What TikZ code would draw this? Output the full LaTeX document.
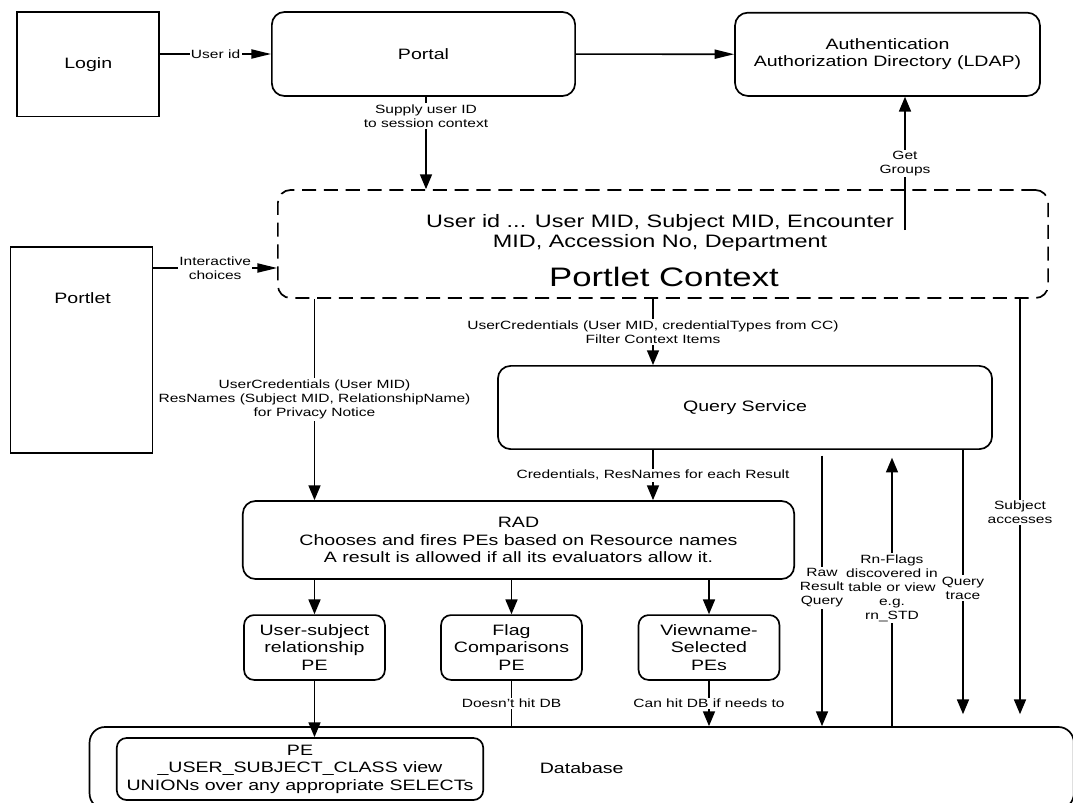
\documentclass[tikz,border=0pt]{standalone}
\usepackage{fontspec}
\setmainfont{Liberation Sans}[FakeStretch=1.3]
\usetikzlibrary{positioning,arrows.meta}

\tikzset{
  box/.style={draw, line width=1.2pt, rounded corners=9pt, align=center, inner sep=0pt,
    font=\fontsize{10.7}{12.4}\selectfont},
  sqbox/.style={box, sharp corners},
  pebox/.style={box, rounded corners=7pt, minimum width=3.52cm, minimum height=1.62cm},
  ctxbox/.style={box, dash pattern=on 10pt off 5.5pt},
  lbl/.style={fill=white, inner sep=1pt, align=center, font=\fontsize{8.5}{10}\selectfont},
  link/.style={line width=1.2pt, >={Triangle[length=10.5pt,width=8.5pt]}},
  hlink/.style={line width=1.2pt, >={Triangle[length=14pt,width=6.5pt]}},
}

\begin{document}
\begin{tikzpicture}[x=0.025cm, y=-0.025cm]
  \useasboundingbox (0,0) rectangle (1073,803);

  \node (login) [sqbox, minimum width=3.55cm, minimum height=2.62cm] at (88.3,64.2) {Login};
  \node (portal) [box, minimum width=7.58cm, minimum height=2.1cm] at (423.5,54) {Portal};
  \node (auth) [box, minimum width=7.62cm, minimum height=2.08cm] at (887.5,54.3)
    {Authentication\\Authorization Directory (LDAP)};
  \node (context) [ctxbox, minimum width=19.25cm, minimum height=2.7cm] at (663,244) {};
  \node (ctxitems) [align=center, font=\fontsize{12.8}{14.2}\selectfont] at (660,233)
    {User id ... User MID, Subject MID, Encounter\\MID, Accession No, Department};
  \node (ctxname) [font=\fontsize{19}{22}\selectfont] at (664,277) {Portlet Context};
  \node (portlet) [sqbox, minimum width=3.55cm, minimum height=5.15cm] at (81.4,350) {};
  \node (portletname) [font=\fontsize{10.7}{12.4}\selectfont] at (82.6,298) {Portlet};
  \node (qs) [box, minimum width=12.35cm, minimum height=2.08cm] at (745,407.5) {Query Service};
  \node (rad) [box, minimum width=13.78cm, minimum height=1.95cm] at (518.5,540)
    {RAD\\Chooses and fires PEs based on Resource names\\A result is allowed if all its evaluators allow it.};
  \node (usr) [pebox] at (314.5,647.5) {User-subject\\relationship\\PE};
  \node (flag) [pebox] at (511.5,647.5) {Flag\\Comparisons\\PE};
  \node (view) [pebox] at (709,647.5) {Viewname-\\Selected\\PEs};
  \node (db) [box, rounded corners=11pt, minimum width=24.6cm, minimum height=2.05cm] at (581.7,768) {Database};
  \node (pe) [box, rounded corners=7pt, minimum width=9.16cm, minimum height=1.55cm] at (300,769)
    {PE\\\_USER\_SUBJECT\_CLASS view\\UNIONs over any appropriate SELECTs};
  \coordinate (groups) at (905,230);

  % top row
  \draw [->,hlink] (login.east |- portal.west) -- (portal.west) node [lbl, midway] {User id};
  \draw [->,hlink] (portal) -- (auth);
  \draw [->,link] (portal.south -| 426,0) -- (context.north -| 426,0)
    node [lbl, pos=0.21] {Supply user ID\\to session context};
  \draw [->,link] (groups) -- (auth.south -| groups) node [lbl, midway] {Get\\Groups};
  \draw [->,hlink] (portlet.east |- 0,268) -- (context.west |- 0,268) node [lbl, midway] {Interactive\\choices};

  % context down to RAD and Query Service
  \draw [->,link] (context.south -| usr.north) -- (rad.north -| usr.north)
    node [lbl, midway] {UserCredentials (User MID)\\ResNames (Subject MID, RelationshipName)\\for Privacy Notice};
  \draw [->,link] (context.south -| 653,0) -- (qs.north -| 653,0)
    node [lbl, midway] {UserCredentials (User MID, credentialTypes from CC)\\Filter Context Items};
  \draw [->,link] (qs.south -| 653,0) -- (rad.north -| 653,0)
    node [lbl, midway] {Credentials, ResNames for each Result};

  % evaluators
  \draw [->,link] (rad.south -| usr.north) -- (usr.north);
  \draw [->,link] (rad.south -| flag.north) -- (flag.north);
  \draw [->,link] (rad.south -| view.north) -- (view.north);
  \draw [->,link] (usr.south) -- (pe.north -| usr.south);
  \draw [link] (flag.south) -- (db.north -| flag.south) node [lbl, midway] {Doesn't hit DB};
  \draw [->,link] (view.south) -- (db.north -| view.south) node [lbl, midway] {Can hit DB if needs to};

  % database side
  \draw [->,link, shorten <=4pt] (qs.south -| 822,0) -- (db.north -| 822,0)
    node [lbl, midway] {Raw\\Result\\Query};
  \draw [->,link, shorten >=5.5pt] (db.north -| 892,0) -- (qs.south -| 892,0)
    node [lbl, midway] {Rn-Flags\\discovered in\\table or view\\e.g.\\rn\_STD};
  \draw [->,link, shorten >=8.5pt] (qs.south -| 963,0) -- (db.north -| 963,0)
    node [lbl, midway] {Query\\trace};
  \draw [->,link, shorten >=8.5pt] (context.south -| 1020,0) -- (db.north -| 1020,0)
    node [lbl, midway] {Subject\\accesses};
\end{tikzpicture}
\end{document}
